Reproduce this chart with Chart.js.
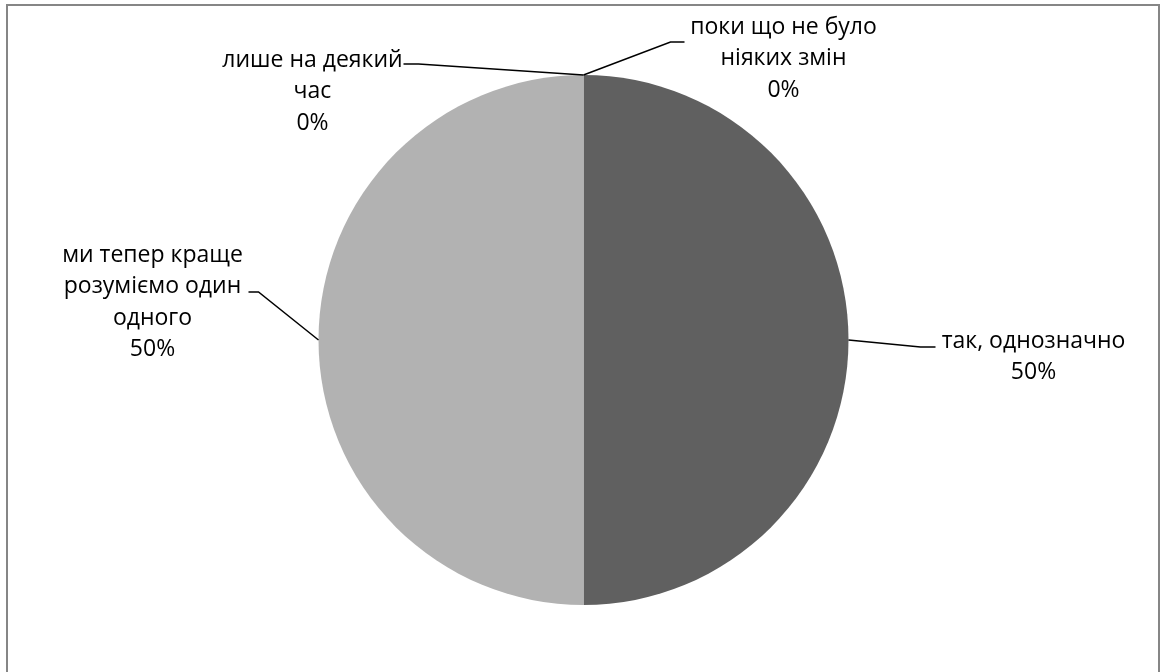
<!DOCTYPE html>
<html>
<head>
<meta charset="utf-8">
<script src="https://cdn.jsdelivr.net/npm/chart.js@4"></script>
<style>
  html, body { margin: 0; padding: 0; background: #ffffff; }
  #wrap { width: 1163px; height: 672px; position: relative; overflow: hidden; }
  canvas { display: block; }
</style>
</head>
<body>
<div id="wrap"><canvas id="c" width="1163" height="672"></canvas></div>
<script>
// ---- data ----
const categories = [
  "так, однозначно",
  "ми тепер краще розуміємо один одного",
  "лише на деякий час",
  "поки що не було ніяких змін"
];
const values = [50, 50, 0, 0];
// wrapped label lines (as shown on the chart)
const labelLines = [
  ["так, однозначно"],
  ["ми тепер краще", "розуміємо один", "одного"],
  ["лише на деякий", "час"],
  ["поки що не було", "ніяких змін"]
];
const sliceColors = ["#606060", "#b2b2b2", "#8a8a8a", "#d0d0d0"];

// ---- label layout (offsets from the slice anchor on the pie rim) ----
const labelLayout = [
  { elbow: [72, 7],   end: [87, 7],    text: [185, 1] },
  { elbow: [-60, -48], end: [-70, -48], text: [-166, -85] },
  { elbow: [-165, -11], end: [-180, -11], text: [-271, -15] },
  { elbow: [87, -33], end: [101, -33], text: [200, -48] }
];

const total = values.reduce((a, b) => a + b, 0);
const pctText = values.map(v => Math.round(v / total * 100) + "%");

const FONT = "23px 'Open Sans'";
const LINE_H = 31.5;

const labelPlugin = {
  id: "pieLabels",
  beforeDraw(chart) {
    const ctx = chart.ctx;
    ctx.save();
    ctx.fillStyle = "#ffffff";
    ctx.fillRect(0, 0, chart.width, chart.height);
    ctx.strokeStyle = "#868686";
    ctx.lineWidth = 2;
    ctx.strokeRect(7, 5, 1152, 700);
    ctx.restore();
  },
  afterDatasetsDraw(chart) {
    const ctx = chart.ctx;
    const meta = chart.getDatasetMeta(0);
    ctx.save();
    meta.data.forEach((arc, i) => {
      const p = arc.getProps(["x", "y", "startAngle", "endAngle", "outerRadius"], true);
      const mid = (p.startAngle + p.endAngle) / 2;
      const ax = p.x + Math.cos(mid) * p.outerRadius;
      const ay = p.y + Math.sin(mid) * p.outerRadius;
      const L = labelLayout[i];
      ctx.strokeStyle = "#000000";
      ctx.lineWidth = 1.5;
      ctx.beginPath();
      ctx.moveTo(ax, ay);
      ctx.lineTo(ax + L.elbow[0], ay + L.elbow[1]);
      ctx.lineTo(ax + L.end[0], ay + L.end[1]);
      ctx.stroke();
      ctx.font = FONT;
      ctx.fillStyle = "#000000";
      ctx.textAlign = "center";
      ctx.textBaseline = "middle";
      const lines = labelLines[i].concat([pctText[i]]);
      lines.forEach((t, k) => {
        ctx.fillText(t, ax + L.text[0], ay + L.text[1] + k * LINE_H);
      });
    });
    ctx.restore();
  }
};

new Chart(document.getElementById("c"), {
  type: "pie",
  data: {
    labels: categories,
    datasets: [{
      data: values,
      backgroundColor: sliceColors,
      borderWidth: 0
    }]
  },
  options: {
    responsive: false,
    animation: false,
    devicePixelRatio: 1,
    layout: { padding: { top: 75, bottom: 67, left: 4, right: 0 } },
    plugins: {
      legend: { display: false },
      tooltip: { enabled: false }
    }
  },
  plugins: [labelPlugin]
});
</script>
</body>
</html>
